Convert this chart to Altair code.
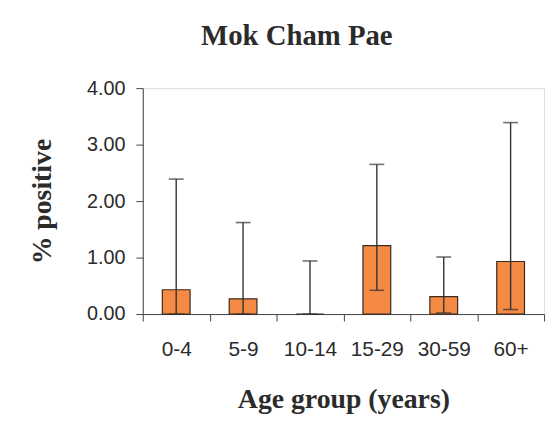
import altair as alt
import pandas as pd

categories = ["0-4", "5-9", "10-14", "15-29", "30-59", "60+"]
pct_positive = [0.43, 0.27, 0.0, 1.21, 0.31, 0.93]
ci_lower = [0.0, 0.0, 0.0, 0.42, 0.02, 0.08]
ci_upper = [2.39, 1.62, 0.94, 2.65, 1.01, 3.39]
y_ticks = [0, 1, 2, 3, 4]

df = pd.DataFrame({
    "age": categories,
    "pct": pct_positive,
    "lo": ci_lower,
    "hi": ci_upper,
})

SERIF = "Liberation Serif"
SANS = "Liberation Sans"
INK = "#2b2b2b"

x_enc = alt.X(
    "age:N",
    sort=categories,
    scale=alt.Scale(paddingInner=0, paddingOuter=0),
    axis=alt.Axis(
        title="Age group (years)",
        titleFont=SERIF, titleFontSize=28, titleFontWeight="bold", titleColor=INK,
        titlePadding=26,
        labelFont=SANS, labelFontSize=21, labelColor=INK, labelAngle=0,
        labelPadding=18, tickSize=7, tickColor="#444", domainColor="#444",
        tickBand="extent", grid=False,
    ),
)

y_scale = alt.Scale(domain=[0, 4], nice=False)
y_axis = alt.Axis(
    title="% positive",
    titleFont=SERIF, titleFontSize=28, titleFontWeight="bold", titleColor=INK,
    titlePadding=30,
    labelFont=SANS, labelFontSize=20, labelColor=INK,
    labelPadding=11, tickSize=7, tickColor="#444", domainColor="#444",
    values=y_ticks, format=".2f", grid=False,
)

base = alt.Chart(df)

bars = base.mark_bar(size=28, color="#F58A45", stroke="#3a2a20", strokeWidth=1.2).encode(
    x=x_enc,
    y=alt.Y("pct:Q", scale=y_scale, axis=y_axis),
)

rules = base.mark_rule(color="#333333", strokeWidth=1.4).encode(
    x=alt.X("age:N", sort=categories),
    y=alt.Y("lo:Q", scale=y_scale),
    y2="hi:Q",
)

cap_hi = base.mark_tick(size=15, thickness=1.6, color="#333333", orient="horizontal").encode(
    x=alt.X("age:N", sort=categories),
    y=alt.Y("hi:Q", scale=y_scale),
)

cap_lo = base.mark_tick(size=15, thickness=1.6, color="#333333", orient="horizontal").encode(
    x=alt.X("age:N", sort=categories),
    y=alt.Y("lo:Q", scale=y_scale),
)

chart = alt.layer(bars, rules, cap_hi, cap_lo).properties(
    width=405,
    height=228,
    padding={"left": 21, "top": 12, "right": 5, "bottom": 0},
    title=alt.TitleParams(
        "Mok Cham Pae", font=SERIF, fontSize=29, fontWeight="bold", color=INK,
        anchor="middle", dx=-47, offset=28,
    ),
).configure_view(
    stroke="#888888", strokeWidth=1.2,
).configure(background="white")

chart.save("out.html", embed_options={"renderer": "svg", "actions": False})
